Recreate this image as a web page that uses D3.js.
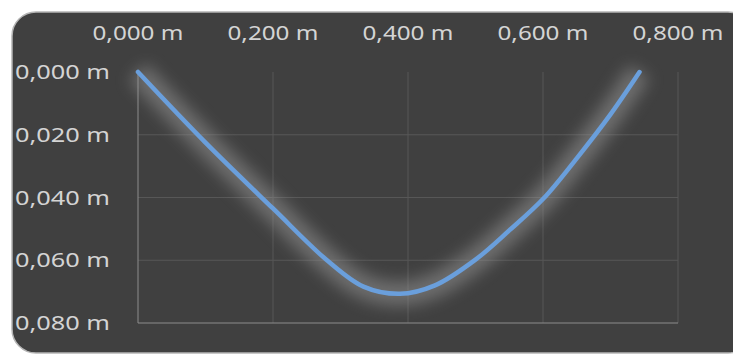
<!DOCTYPE html>
<html>
<head>
<meta charset="utf-8">
<script src="https://cdn.jsdelivr.net/npm/d3@7"></script>
<style>
  html, body { margin: 0; padding: 0; background: #ffffff; }
  svg { display: block; }
</style>
</head>
<body>
<svg id="chart" width="733" height="354"></svg>
<script>
// curve points (x in m, deflection in m)
const xVals = [0, 0.1, 0.2, 0.28, 0.334, 0.388, 0.44, 0.5, 0.55, 0.6, 0.65, 0.7, 0.743];
const yVals = [0, 0.0225, 0.0435, 0.06, 0.0684, 0.0707, 0.068, 0.0598, 0.0505, 0.0405, 0.0275, 0.0135, 0];
const xTicks = [0, 0.2, 0.4, 0.6, 0.8];
const yTicks = [0, 0.02, 0.04, 0.06, 0.08];

const width = 733, height = 354;
const svg = d3.select("#chart");

const locale = d3.formatLocale({decimal: ",", thousands: ".", grouping: [3], currency: ["", " €"]});
const fmt = d => locale.format(".3f")(d) + " m";

// panel
svg.append("rect")
  .attr("x", 12).attr("y", 12)
  .attr("width", 740).attr("height", 341)
  .attr("rx", 24).attr("ry", 24)
  .attr("fill", "#404040")
  .attr("stroke", "#b5b5b5")
  .attr("stroke-width", 1.5);

const x = d3.scaleLinear().domain([0, 0.8]).range([138, 678]);
const y = d3.scaleLinear().domain([0, 0.08]).range([72, 323]);

// gridlines
svg.append("g").selectAll("line")
  .data(xTicks.slice(1))
  .enter().append("line")
  .attr("x1", d => x(d)).attr("x2", d => x(d))
  .attr("y1", y(0)).attr("y2", y(0.08))
  .attr("stroke", "#575757").attr("stroke-width", 1);

svg.append("g").selectAll("line")
  .data(yTicks.slice(1, -1))
  .enter().append("line")
  .attr("x1", x(0)).attr("x2", x(0.8))
  .attr("y1", d => y(d)).attr("y2", d => y(d))
  .attr("stroke", "#575757").attr("stroke-width", 1);

// axis lines
svg.append("line")
  .attr("x1", x(0)).attr("x2", x(0))
  .attr("y1", y(0)).attr("y2", y(0.08))
  .attr("stroke", "#8c8c8c").attr("stroke-width", 1);
svg.append("line")
  .attr("x1", x(0)).attr("x2", x(0.8))
  .attr("y1", y(0.08)).attr("y2", y(0.08))
  .attr("stroke", "#8c8c8c").attr("stroke-width", 1.2);

// labels (stretched text, like the picture)
svg.append("g").selectAll("text")
  .data(xTicks)
  .enter().append("text")
  .attr("x", d => x(d))
  .attr("y", 40)
  .attr("text-anchor", "middle")
  .attr("textLength", 91)
  .attr("lengthAdjust", "spacingAndGlyphs")
  .style("font-family", "'Noto Sans', sans-serif")
  .style("font-size", "19px")
  .attr("fill", "#d4d4d4")
  .text(fmt);

svg.append("g").selectAll("text")
  .data(yTicks)
  .enter().append("text")
  .attr("x", 15)
  .attr("y", d => y(d) + 7)
  .attr("textLength", 95)
  .attr("lengthAdjust", "spacingAndGlyphs")
  .style("font-family", "'Noto Sans', sans-serif")
  .style("font-size", "19px")
  .attr("fill", "#d4d4d4")
  .text(fmt);

// glow
const defs = svg.append("defs");
defs.append("filter")
  .attr("id", "glow")
  .attr("filterUnits", "userSpaceOnUse")
  .attr("x", 0).attr("y", 0)
  .attr("width", width).attr("height", height)
  .append("feGaussianBlur")
  .attr("stdDeviation", 8);

const pts = xVals.map((v, i) => [v, yVals[i]]);
const line = d3.line()
  .x(d => x(d[0]))
  .y(d => y(d[1]))
  .curve(d3.curveCatmullRom.alpha(0.5));

svg.append("path")
  .attr("d", line(pts))
  .attr("fill", "none")
  .attr("stroke", "#959595")
  .attr("stroke-width", 24)
  .attr("opacity", 0.55)
  .attr("filter", "url(#glow)");

svg.append("path")
  .attr("d", line(pts))
  .attr("fill", "none")
  .attr("stroke", "#6a9fdc")
  .attr("stroke-width", 4.5)
  .attr("stroke-linecap", "round");
</script>
</body>
</html>
